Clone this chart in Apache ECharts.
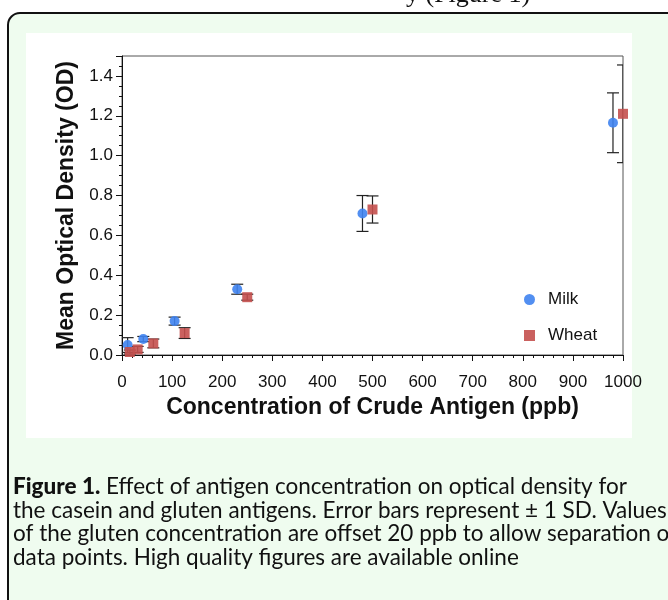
<!DOCTYPE html>
<html><head><meta charset="utf-8">
<script src="https://cdn.jsdelivr.net/npm/echarts@6/dist/echarts.min.js"></script>
<style>html,body{margin:0;padding:0;background:#fff}#c{width:668px;height:600px}</style>
</head><body><div id="c"></div>
<script>
// Data
const milkX   = [11.25, 42.5, 105, 230, 480, 980];
const milkY   = [0.05, 0.08, 0.17, 0.33, 0.71, 1.165];
const milkSD  = [0.037, 0.013, 0.02, 0.025, 0.09, 0.15];
const wheatX  = [15.6, 31.25, 62.5, 125, 250, 500, 1000];
const wheatY  = [0.015, 0.028, 0.058, 0.11, 0.29, 0.73, 1.21];
const wheatSD = [0.01, 0.015, 0.022, 0.027, 0.015, 0.068, 0.245];
const xTickLabels = ['0','100','200','300','400','500','600','700','800','900','1000'];
const yTickLabels = ['0.0','0.2','0.4','0.6','0.8','1.0','1.2','1.4'];
const captionLines = [
  'the casein and gluten antigens. Error bars represent \u00b1 1 SD. Values',
  'of the gluten concentration are offset 20 ppb to allow separation of',
  'data points. High quality figures are available online'
];

const FONT = '"Liberation Sans", Arial, Helvetica, sans-serif';
const CAPFONT = 'Lato, "Open Sans", sans-serif';

const milkPts = milkX.map((x, i) => [x, milkY[i]]);
const wheatPts = wheatX.map((x, i) => [x, wheatY[i]]);
const milkErr = milkX.map((x, i) => [x, milkY[i] - milkSD[i], milkY[i] + milkSD[i]]);
const wheatErr = wheatX.map((x, i) => [x, wheatY[i] - wheatSD[i], wheatY[i] + wheatSD[i]]);

function errRender(params, api) {
  const x = api.value(0), lo = api.value(1), hi = api.value(2);
  const pLo = api.coord([x, lo]), pHi = api.coord([x, hi]);
  const hw = 6;
  const style = { stroke: '#222', lineWidth: 1.2, fill: null };
  return { type: 'group', children: [
    { type: 'line', shape: { x1: pLo[0], y1: pLo[1], x2: pHi[0], y2: pHi[1] }, style },
    { type: 'line', shape: { x1: pHi[0] - hw, y1: pHi[1], x2: pHi[0] + hw, y2: pHi[1] }, style },
    { type: 'line', shape: { x1: pLo[0] - hw, y1: pLo[1], x2: pLo[0] + hw, y2: pLo[1] }, style }
  ]};
}

const chart = echarts.init(document.getElementById('c'), null, { renderer: 'canvas' });
const graphics = [
  { type: 'rect', z: -10, shape: { x: 8, y: 13, width: 700, height: 640, r: 12 },
    style: { fill: '#effcef', stroke: '#111', lineWidth: 2 } },
  { type: 'rect', z: -9, shape: { x: 26, y: 33, width: 606, height: 405 },
    style: { fill: '#ffffff' } },
  { type: 'text', z: -8, x: 406, y: 8,
    style: { text: 'y (Figure 1)', font: '26px "Liberation Serif", serif', fill: '#111',
             verticalAlign: 'bottom' } },
  { type: 'text', z: 5, x: 13, y: 487,
    style: { text: '{b|Figure 1.} Effect of antigen concentration on optical density for',
             verticalAlign: 'middle', font: '22.5px ' + CAPFONT, fill: '#111',
             rich: { b: { fontWeight: 900, fontFamily: CAPFONT, fontSize: 22.5, fill: '#111' } } } }
];
captionLines.forEach((t, i) => {
  graphics.push({ type: 'text', z: 5, x: 13, y: 510.5 + i * 23.5,
    style: { text: t, verticalAlign: 'middle', font: '22.5px ' + CAPFONT, fill: '#111' } });
});

chart.setOption({
  animation: false,
  backgroundColor: '#ffffff',
  graphic: graphics,
  grid: { left: 122, top: 56, right: 45, bottom: 245, show: true, borderColor: '#555', borderWidth: 1, backgroundColor: 'transparent' },
  legend: {
    orient: 'vertical', left: 519, top: 286, itemWidth: 11, itemHeight: 11, itemGap: 19,
    textStyle: { fontFamily: FONT, fontSize: 17, color: '#111', padding: [0, 0, 0, 8] },
    data: [{ name: 'Milk', icon: 'circle' }, { name: 'Wheat', icon: 'rect' }]
  },
  xAxis: {
    type: 'value', min: 0, max: 1000, interval: 100,
    name: 'Concentration of Crude Antigen (ppb)', nameLocation: 'middle', nameGap: 41,
    nameTextStyle: { fontFamily: FONT, fontSize: 23, fontWeight: 'bold', color: '#111' },
    axisLine: { show: true, lineStyle: { color: '#111', width: 1 } },
    axisTick: { show: true, inside: false, length: 6, lineStyle: { color: '#111' } },
    minorTick: { show: true, splitNumber: 5, length: 3, lineStyle: { color: '#111' } },
    splitLine: { show: false },
    axisLabel: { fontFamily: FONT, fontSize: 17, color: '#111', margin: 19,
                 formatter: (v) => xTickLabels[Math.round(v / 100)] }
  },
  yAxis: {
    type: 'value', min: 0, max: 1.5, interval: 0.2,
    name: 'Mean Optical Density (OD)', nameLocation: 'middle', nameGap: 43,
    nameTextStyle: { fontFamily: FONT, fontSize: 23, fontWeight: 'bold', color: '#111' },
    axisLine: { show: true, lineStyle: { color: '#111', width: 1 } },
    axisTick: { show: true, inside: false, length: 6, lineStyle: { color: '#111' } },
    minorTick: { show: true, splitNumber: 4, length: 3, lineStyle: { color: '#111' } },
    splitLine: { show: false },
    axisLabel: { fontFamily: FONT, fontSize: 17, color: '#111', margin: 9, showMaxLabel: false,
                 formatter: (v) => { const i = Math.round(v / 0.2); return Math.abs(v - i * 0.2) < 1e-6 ? (yTickLabels[i] || '') : ''; } }
  },
  series: [
    { name: 'MilkErr', type: 'custom', renderItem: errRender, data: milkErr, encode: { x: 0, y: [1, 2] }, clip: true, z: 2, silent: true },
    { name: 'WheatErr', type: 'custom', renderItem: errRender, data: wheatErr, encode: { x: 0, y: [1, 2] }, clip: true, z: 2, silent: true },
    { name: 'Milk', type: 'scatter', data: milkPts, symbol: 'circle', symbolSize: 10, z: 3,
      itemStyle: { color: '#3f83f0', opacity: 0.9 } },
    { name: 'Wheat', type: 'scatter', data: wheatPts, symbol: 'rect', symbolSize: 10, z: 3,
      itemStyle: { color: '#c4504e', opacity: 0.9 } }
  ]
});
</script></body></html>
